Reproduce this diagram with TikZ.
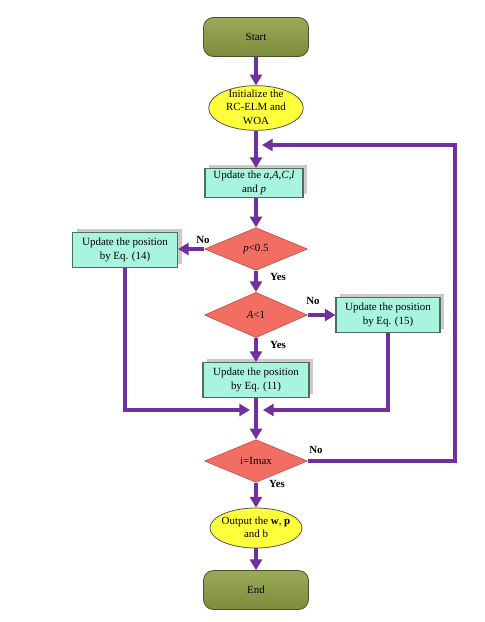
\documentclass[tikz,border=0pt]{standalone}
\usepackage{fontspec}
\setmainfont{Liberation Serif}
\usetikzlibrary{shapes.geometric,arrows.meta,shadows}
\definecolor{arrowc}{HTML}{7030A0}
\definecolor{termtop}{HTML}{9BAA58}
\definecolor{termbot}{HTML}{7D8B3C}
\definecolor{termborder}{HTML}{4A5228}
\definecolor{ovalfill}{HTML}{FFFF3C}
\definecolor{ovalborder}{HTML}{555555}
\definecolor{boxfill}{HTML}{A8F4DE}
\definecolor{boxborder}{HTML}{4E6E60}
\definecolor{decfill}{HTML}{F36E62}
\definecolor{decborder}{HTML}{C0504D}
\definecolor{shadowc}{HTML}{CFC8C8}
\begin{document}
\begin{tikzpicture}[x=0.75pt,y=-0.75pt,
 font=\fontsize{8.2}{10}\selectfont,
 term/.style={rounded corners=7.5pt, draw=termborder, top color=termtop, bottom color=termbot,
   minimum width=78.75pt, minimum height=29.25pt, line width=0.6pt},
 oval/.style={ellipse, draw=ovalborder, fill=ovalfill, line width=0.6pt, inner sep=0pt},
 txt/.style={align=center, inner sep=0pt},
 procbox/.style={rectangle, draw=boxborder, fill=boxfill, line width=0.8pt, align=center, inner sep=1pt,
   drop shadow={shadow xshift=3pt, shadow yshift=3pt, fill=shadowc, opacity=1}},
 decision/.style={diamond, draw=decborder, fill=decfill, line width=0.5pt, inner sep=0pt,
   minimum width=77pt, minimum height=32pt, aspect=2.4},
 flow/.style={draw=arrowc, line width=3pt, -{Triangle[length=8pt,width=9pt]}},
 lbl/.style={font=\fontsize{8.2}{10}\selectfont\bfseries, inner sep=0pt}]
\fill[white] (0,0) rectangle (485,622);
\useasboundingbox (0,0) rectangle (485,622);

% nodes
\node[term] (start) at (256,37) {Start};
\node[oval, minimum width=71pt, minimum height=33.5pt] (init) at (256,108) {};
\node[txt] (initT) at (256,107) {Initialize the\\RC-ELM and\\WOA};
\node[procbox, minimum width=73.5pt, minimum height=21.75pt] (upd) at (254,183)
  {Update the \textit{a},\textit{A},\textit{C},\textit{l}\\and \textit{p}};
\node[decision] (p05) at (256,249) {\textit{p}<0.5};
\node[procbox, minimum width=78.75pt, minimum height=26.25pt] (eq14) at (125,250)
  {Update the position\\by Eq. (14)};
\node[decision, minimum height=34pt] (A1) at (256,315) {\textit{A}<1};
\node[procbox, minimum width=78pt, minimum height=26.25pt] (eq15) at (388,315)
  {Update the position\\by Eq. (15)};
\node[procbox, minimum width=79.5pt, minimum height=26.25pt] (eq11) at (256,380)
  {Update the position\\by Eq. (11)};
\node[decision] (imax) at (256,461) {i=Imax};
\node[oval, minimum width=69pt, minimum height=30pt] (out) at (256,528) {};
\node[txt] (outT) at (256,527) {Output the \textbf{w}, \textbf{p}\\and b};
\node[term] (end) at (256,590) {End};

% coordinates
\coordinate (mL) at (250,410);
\coordinate (mR) at (263,410);
\coordinate (loopC) at (455,145);
\coordinate (loopEnd) at (262,145);

% connectors
\draw[flow] (start) -- (init);
\draw[flow] (init.south) -- (init.south |- upd.north);
\draw[flow] (upd.south -| p05.north) -- (p05.north);
\draw[flow] (p05.west) -- (eq14.east |- p05.west);
\draw[flow] (p05) -- (A1);
\draw[flow] (A1) -- (eq15);
\draw[flow] (A1) -- (eq11);
\draw[flow] (eq11) -- (imax);
\draw[flow] (eq14.south) |- (mL);
\draw[flow] (eq15.south) |- (mR);
\draw[flow] (imax.east) -| (loopC) -- (loopEnd);
\draw[flow] (imax) -- (out);
\draw[flow] (out) -- (end);

% labels
\node[lbl] (no1) at (203,240) {No};
\node[lbl] (yes1) at (278,277) {Yes};
\node[lbl] (no2) at (313,301) {No};
\node[lbl] (yes2) at (278,345) {Yes};
\node[lbl] (no3) at (316,450) {No};
\node[lbl] (yes3) at (277,484) {Yes};
\end{tikzpicture}
\end{document}
